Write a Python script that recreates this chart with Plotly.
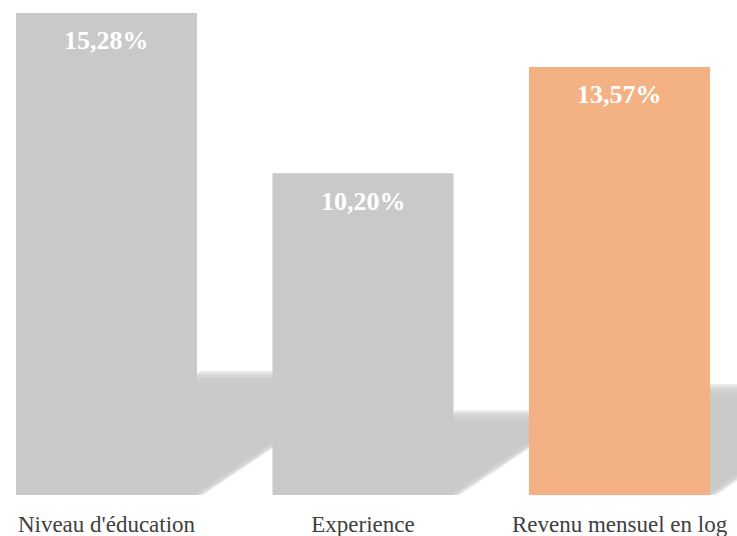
import plotly.graph_objects as go

categories = ["Niveau d'éducation", "Experience", "Revenu mensuel en log"]
values = [15.28, 10.20, 13.57]
bar_colors = ["#C9C9C9", "#C9C9C9", "#F4B183"]

W, H = 737, 536
M_T, M_B = 0, 41
X_RANGE = [-0.4152, 2.4581]
Y_RANGE = [0, 15.69]
BAR_W = 0.7057

plot_w = W
plot_h = H - M_T - M_B
px_x = plot_w / (X_RANGE[1] - X_RANGE[0])
px_y = plot_h / (Y_RANGE[1] - Y_RANGE[0])

SHADOW_RATIO = 0.245
SHADOW_SLOPE = 0.67

xs = list(range(len(categories)))

fig = go.Figure()
fig.add_trace(go.Bar(
    x=xs, y=values, width=BAR_W,
    marker=dict(color=bar_colors, line=dict(width=0)),
    hoverinfo="skip",
))

shapes = []
for x, v in zip(xs, values):
    h = SHADOW_RATIO * v
    xl = x - BAR_W / 2
    xr = x + BAR_W / 2
    for e in [-6, -4, -2, 0, 2, 4, 6]:
        ey = e / px_y
        ex = e / px_x
        top = h + ey
        shift = top * px_y / SHADOW_SLOPE / px_x
        path = (f"M {xl},0 L {xr + ex},0 L {xr + ex + shift},{top} "
                f"L {xl + shift},{top} Z")
        shapes.append(dict(type="path", path=path, xref="x", yref="y",
                           fillcolor="rgba(200,200,200,0.36)",
                           line=dict(width=0), layer="below"))

annotations = []
for x, v in zip(xs, values):
    annotations.append(dict(
        x=x, y=v, xref="x", yref="y",
        text=f"{v:.2f}".replace(".", ",") + "%",
        showarrow=False, yanchor="middle", yshift=-28,
        font=dict(family="Liberation Serif", size=26, color="white", weight="bold"),
    ))

fig.update_layout(
    width=W, height=H,
    margin=dict(l=0, r=0, t=M_T, b=M_B, pad=0),
    paper_bgcolor="white", plot_bgcolor="white",
    showlegend=False,
    shapes=shapes,
    annotations=annotations,
    xaxis=dict(range=X_RANGE, tickvals=xs, ticktext=categories,
               showgrid=False, zeroline=False, showline=False,
               ticks="outside", ticklen=8, tickcolor="rgba(0,0,0,0)",
               tickfont=dict(family="Liberation Serif", size=23, color="#404040"),
               fixedrange=True),
    yaxis=dict(range=Y_RANGE, visible=False, fixedrange=True),
)

fig.write_html("out.html", config={"displayModeBar": False},
               post_script="document.body.style.margin='0';")
